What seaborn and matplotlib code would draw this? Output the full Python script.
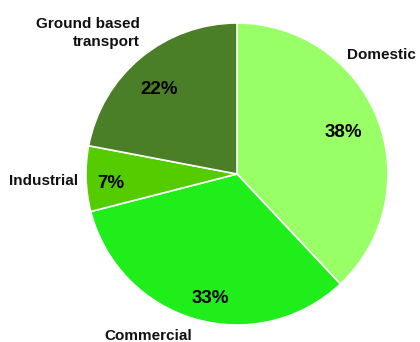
import matplotlib
matplotlib.use("Agg")
import matplotlib.pyplot as plt
import numpy as np
import seaborn as sns

sns.set_theme(style="white")
plt.rcParams["font.family"] = ["Liberation Sans", "DejaVu Sans"]

# Energy use by sector (share, %)
sectors = ["Domestic", "Commercial", "Industrial", "Ground based\ntransport"]
shares = [38, 33, 7, 22]
colors = ["#99FF66", "#1FEE1A", "#55CC00", "#4A7F28"]

# placement of each percentage label: distance from centre (fraction of
# radius) and a small angular nudge (degrees) from the wedge's mid-angle
pct_dist = [0.76, 0.83, 0.84, 0.77]
pct_nudge = [0.9, 4.1, 1.4, 2.2]

W, H, DPI = 420, 342, 100
fig = plt.figure(figsize=(W / DPI, H / DPI), dpi=DPI)
ax = fig.add_axes([0, 0, 1, 1])

R = 151.0
cx, cy = 237.0, 174.0
wedges, _ = ax.pie(
    shares,
    colors=colors,
    startangle=90,
    counterclock=False,
    radius=1.0,
    wedgeprops=dict(edgecolor="white", linewidth=1.2),
)

for w, v, d, n in zip(wedges, shares, pct_dist, pct_nudge):
    mid = np.deg2rad((w.theta1 + w.theta2) / 2 + n)
    ax.text(d * np.cos(mid), d * np.sin(mid), f"{v}%",
            ha="center", va="center_baseline", fontsize=13.5,
            fontweight="bold", color="black")

# category labels outside the pie (pixel offsets from the centre)
label_px = {
    "Domestic": (381, 55, "center"),
    "Commercial": (148, 336, "center"),
    "Industrial": (44, 181, "center"),
    "Ground based\ntransport": (140, 33, "right"),
}
for name in sectors:
    px, py, ha = label_px[name]
    ax.text((px - cx) / R, (cy - py) / R, name, ha=ha, va="center",
            fontsize=11, fontweight="bold", color="#111111", linespacing=1.3)

ax.set_xlim(-cx / R, (W - cx) / R)
ax.set_ylim(-(H - cy) / R, cy / R)
ax.set_aspect("auto")
ax.axis("off")

fig.savefig("out.png", dpi=DPI, facecolor="white")
